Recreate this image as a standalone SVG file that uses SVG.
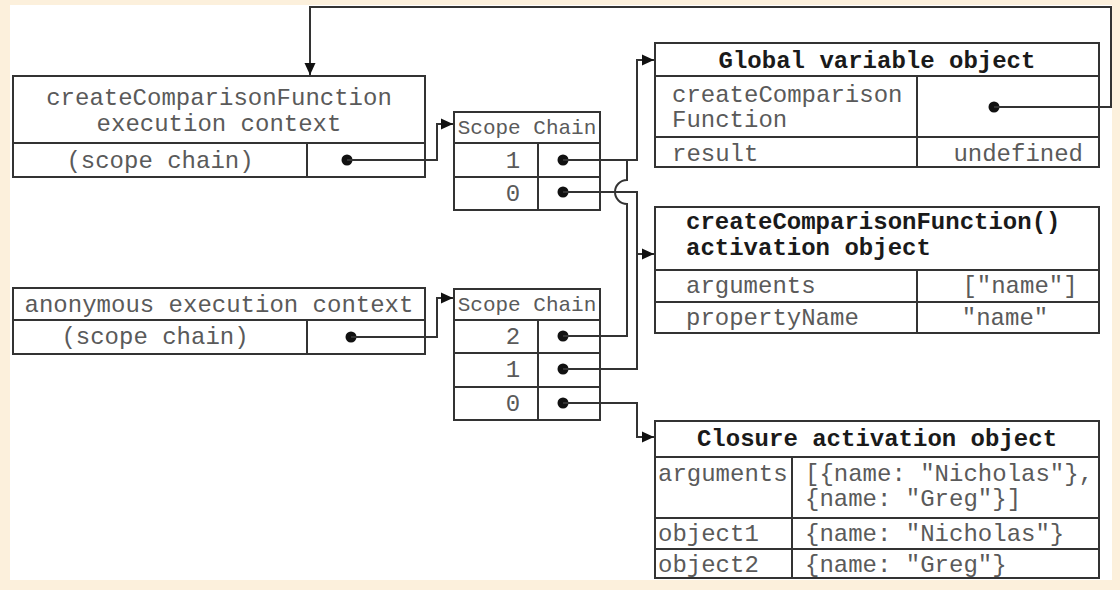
<svg xmlns="http://www.w3.org/2000/svg" width="1120" height="590" viewBox="0 0 1120 590">
<defs>
<marker id="arr" markerUnits="userSpaceOnUse" markerWidth="14" markerHeight="14" refX="12" refY="7" orient="auto">
<path d="M0,1.5 L12,7 L0,12.5 z" fill="#111"/>
</marker>
<style>
.box{fill:#fff;stroke:#333;stroke-width:2}
.ln{fill:none;stroke:#333;stroke-width:2}
.t{font-family:"Liberation Mono","Courier New",monospace;font-size:24px;fill:#5a5a5a}
.b{font-family:"Liberation Mono","Courier New",monospace;font-size:24px;font-weight:bold;fill:#1a1a1a}
.s{font-family:"Liberation Mono","Courier New",monospace;font-size:21px;fill:#5a5a5a}
.m{text-anchor:middle}
.e{text-anchor:end}
.dot{fill:#111}
.con{fill:none;stroke:#333;stroke-width:2}
</style>
</defs>
<rect x="0" y="0" width="1120" height="590" fill="#fcf0dc"/>
<rect x="10" y="5" width="1102" height="575" fill="#fff"/>

<g id="ctx-create">
<rect class="box" x="13" y="76" width="412" height="101"/>
<line class="ln" x1="13" y1="143" x2="425" y2="143"/>
<line class="ln" x1="307" y1="143" x2="307" y2="177"/>
<text class="t m" x="219" y="105">createComparisonFunction</text>
<text class="t m" x="219" y="131">execution context</text>
<text class="t m" x="160" y="168">(scope chain)</text>
<circle class="dot" cx="347" cy="160" r="5.5"/>
</g>

<g id="ctx-anon">
<rect class="box" x="13" y="288" width="412" height="66"/>
<line class="ln" x1="13" y1="320" x2="425" y2="320"/>
<line class="ln" x1="307" y1="320" x2="307" y2="354"/>
<text class="t m" x="219" y="312">anonymous execution context</text>
<text class="t m" x="155" y="344">(scope chain)</text>
<circle class="dot" cx="351" cy="337" r="5.5"/>
</g>

<g id="scope1">
<rect class="box" x="454" y="112" width="146" height="98"/>
<line class="ln" x1="454" y1="143" x2="600" y2="143"/>
<line class="ln" x1="454" y1="177" x2="600" y2="177"/>
<line class="ln" x1="538" y1="143" x2="538" y2="210"/>
<text class="s m" x="527" y="134">Scope Chain</text>
<text class="t m" x="513" y="168">1</text>
<text class="t m" x="513" y="201">0</text>
<circle class="dot" cx="563" cy="160" r="5.5"/>
<circle class="dot" cx="563" cy="192" r="5.5"/>
</g>

<g id="scope2">
<rect class="box" x="454" y="289" width="146" height="131"/>
<line class="ln" x1="454" y1="320" x2="600" y2="320"/>
<line class="ln" x1="454" y1="353" x2="600" y2="353"/>
<line class="ln" x1="454" y1="387" x2="600" y2="387"/>
<line class="ln" x1="538" y1="320" x2="538" y2="420"/>
<text class="s m" x="527" y="311">Scope Chain</text>
<text class="t m" x="513" y="344">2</text>
<text class="t m" x="513" y="377">1</text>
<text class="t m" x="513" y="411">0</text>
<circle class="dot" cx="563" cy="336" r="5.5"/>
<circle class="dot" cx="563" cy="369" r="5.5"/>
<circle class="dot" cx="563" cy="403" r="5.5"/>
</g>

<g id="global">
<rect class="box" x="655" y="43" width="444" height="124"/>
<line class="ln" x1="655" y1="76" x2="1099" y2="76"/>
<line class="ln" x1="655" y1="137" x2="1099" y2="137"/>
<line class="ln" x1="917" y1="76" x2="917" y2="167"/>
<text class="b m" x="877" y="68">Global variable object</text>
<text class="t" x="672" y="102">createComparison</text>
<text class="t" x="672" y="127">Function</text>
<text class="t" x="672" y="161">result</text>
<text class="t e" x="1083" y="161">undefined</text>
<circle class="dot" cx="994" cy="107" r="5.5"/>
</g>

<g id="activation">
<rect class="box" x="655" y="207" width="444" height="126"/>
<line class="ln" x1="655" y1="270" x2="1099" y2="270"/>
<line class="ln" x1="655" y1="302" x2="1099" y2="302"/>
<line class="ln" x1="917" y1="270" x2="917" y2="333"/>
<text class="b" x="686" y="229">createComparisonFunction()</text>
<text class="b" x="686" y="255">activation object</text>
<text class="t" x="686" y="293">arguments</text>
<text class="t m" x="1020" y="293">["name"]</text>
<text class="t" x="686" y="325">propertyName</text>
<text class="t m" x="1005" y="325">"name"</text>
</g>

<g id="closure">
<rect class="box" x="655" y="421" width="444" height="157"/>
<line class="ln" x1="655" y1="457" x2="1099" y2="457"/>
<line class="ln" x1="655" y1="518" x2="1099" y2="518"/>
<line class="ln" x1="655" y1="549" x2="1099" y2="549"/>
<line class="ln" x1="792" y1="457" x2="792" y2="578"/>
<text class="b m" x="877" y="446">Closure activation object</text>
<text class="t" x="658" y="481">arguments</text>
<text class="t" x="805" y="481">[{name: "Nicholas"},</text>
<text class="t" x="805" y="506">{name: "Greg"}]</text>
<text class="t" x="658" y="541">object1</text>
<text class="t" x="805" y="541">{name: "Nicholas"}</text>
<text class="t" x="658" y="572">object2</text>
<text class="t" x="805" y="572">{name: "Greg"}</text>
</g>

<g id="connectors">
<path class="con" d="M994,107 H1111 V7 H310 V75" marker-end="url(#arr)"/>
<path class="con" d="M347,160 H437 V124 H453" marker-end="url(#arr)"/>
<path class="con" d="M351,337 H437 V298 H453" marker-end="url(#arr)"/>
<path class="con" d="M563,160 H637 V60 H654" marker-end="url(#arr)"/>
<path class="con" d="M563,336 H627 V204 A12,12 0 0 1 627,180 V160"/>
<path class="con" d="M563,192 H637 V369 H563"/>
<path class="con" d="M637,254 H654" marker-end="url(#arr)"/>
<path class="con" d="M563,403 H637 V437 H654" marker-end="url(#arr)"/>
</g>
</svg>
